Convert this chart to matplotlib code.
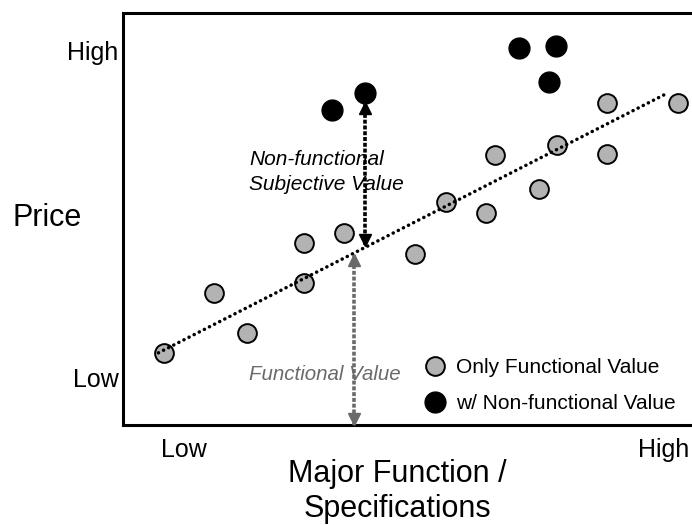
import matplotlib
matplotlib.use("Agg")
import matplotlib.pyplot as plt
from matplotlib.lines import Line2D

plt.rcParams['font.family'] = ['Liberation Sans', 'DejaVu Sans']

# points with only functional value (x = major function, y = price, 0-100 scale)
func_x = [7.2, 16.0, 21.8, 31.9, 31.9, 38.9, 51.4, 56.8, 63.9, 65.4, 73.2, 76.3, 85.1, 85.1, 97.5]
func_y = [17.4, 31.9, 22.2, 44.1, 34.3, 46.5, 41.4, 54.0, 51.3, 65.4, 57.2, 67.8, 78.0, 65.7, 78.0]

# points with non-functional value added
nonfunc_x = [36.7, 42.6, 69.6, 76.1, 74.9]
nonfunc_y = [76.3, 80.5, 91.4, 91.9, 83.1]

# trend line of functional value
trend_x = [6.3, 95.3]
trend_y = [17.4, 80.2]

# arrows: non-functional (black) and functional (gray)
nf_arrow_x = 42.6
nf_arrow_y = [43.6, 78.0]
f_arrow_x = 40.7
f_arrow_y = [0.0, 41.1]

x_ticks = [10.7, 95.0]
x_ticklabels = ['Low', 'High']
y_ticks = [11.3, 90.9]
y_ticklabels = ['Low', 'High']

W, H = 692, 525
fig = plt.figure(figsize=(W / 100, H / 100), dpi=100)
ax = fig.add_axes([122.5 / W, (H - 424.5) / H, (W - 122.5) / W, (424.5 - 12.7) / H])
ax.set_xlim(0, 100)
ax.set_ylim(0, 100)

for s in ['left', 'top', 'bottom']:
    ax.spines[s].set_linewidth(2.2)
ax.spines['right'].set_visible(False)

gray = '#b3b3b3'
ax.plot(func_x, func_y, 'o', ms=13.5, mfc=gray, mec='black', mew=1.4, zorder=3)
ax.plot(trend_x, trend_y, color='black', lw=2.5, linestyle=(0, (0.05, 1.6)),
        dash_capstyle='round', zorder=4)
ax.plot(nonfunc_x, nonfunc_y, 'o', ms=15, mfc='black', mec='black', zorder=5)

# black dashed double arrow
ax.plot([nf_arrow_x, nf_arrow_x], nf_arrow_y, color='black', lw=2.6,
        linestyle=(0, (1.1, 0.5)), zorder=4)
ax.plot([nf_arrow_x], [nf_arrow_y[0] + 1.2], marker='v', ms=8, color='black', zorder=4)
ax.plot([nf_arrow_x], [nf_arrow_y[1] - 1.2], marker='^', ms=8, color='black', zorder=4)

# gray dashed double arrow
agray = '#6a6a6a'
ax.plot([f_arrow_x, f_arrow_x], f_arrow_y, color=agray, lw=2.6,
        linestyle=(0, (1.1, 0.5)), zorder=4, clip_on=False)
ax.plot([f_arrow_x], [f_arrow_y[0] + 1.4], marker='v', ms=8, color=agray, zorder=4)
ax.plot([f_arrow_x], [f_arrow_y[1] - 1.2], marker='^', ms=8, color=agray, zorder=4)

ax.text(22.3, 61.4, 'Non-functional\nSubjective Value', style='italic', fontsize=15,
        ha='left', va='center', linespacing=1.4)
ax.text(22.3, 12.2, 'Functional Value', style='italic', fontsize=14.8, color=agray,
        ha='left', va='center')

ax.set_xticks(x_ticks)
ax.set_xticklabels(x_ticklabels, fontsize=18)
ax.set_yticks(y_ticks)
ax.set_yticklabels(y_ticklabels, fontsize=18)
ax.tick_params(length=0)
ax.tick_params(axis='x', pad=10)
ax.tick_params(axis='y', pad=3)

ax.set_ylabel('Price', fontsize=22, rotation=0, ha='center', va='center')
ax.yaxis.set_label_coords(-0.1316, 0.501)
ax.set_xlabel('Major Function /\nSpecifications', fontsize=22, linespacing=1.25,
              ha='center', va='center')
ax.xaxis.set_label_coords(0.482, -0.163)

handles = [
    Line2D([], [], ls='none', marker='o', ms=13.5, mfc=gray, mec='black', mew=1.4),
    Line2D([], [], ls='none', marker='o', ms=15, mfc='black', mec='black'),
]
ax.legend(handles, ['Only Functional Value', 'w/ Non-functional Value'],
          loc='upper left', bbox_to_anchor=(0.530, 0.161), frameon=False,
          fontsize=15, handlelength=1.0, handletextpad=0.5, labelspacing=0.8,
          borderpad=0, borderaxespad=0)

fig.savefig('out.png', dpi=100)
